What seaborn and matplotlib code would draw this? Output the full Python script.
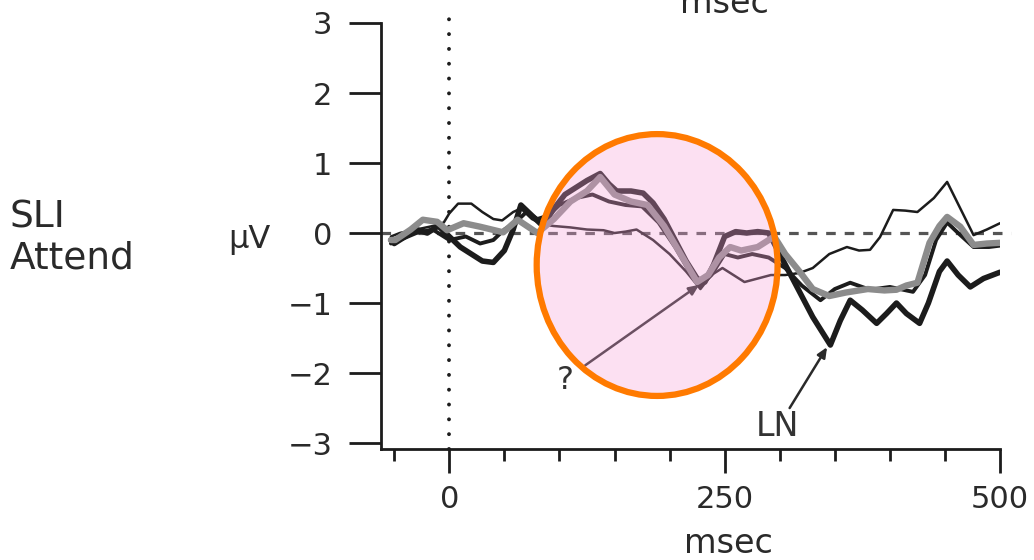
import matplotlib
matplotlib.use("Agg")
import matplotlib.pyplot as plt
import seaborn as sns
import pandas as pd
from matplotlib.patches import Ellipse

# ERP waveforms (ms, microvolts), SLI group, attend condition
thick_t = [-53, -50, -40, -30, -20, -10, 0, 10, 20, 30, 40, 50, 58, 65, 75, 85, 95, 105, 115, 125,
           137, 145, 152, 165, 176, 185, 195, 205, 215, 225, 232, 240, 250, 260, 270, 280, 290, 300,
           310, 320, 330, 340, 346, 355, 364, 375, 388, 397, 406, 415, 427, 435, 445, 452, 462, 473,
           485, 500]
thick_v = [-0.1, -0.15, -0.05, 0.05, 0.0, 0.1, -0.05, -0.2, -0.3, -0.4, -0.42, -0.25, 0.05, 0.4,
           0.25, 0.1, 0.35, 0.55, 0.65, 0.75, 0.85, 0.7, 0.6, 0.6, 0.57, 0.43, 0.2, -0.1, -0.4, -0.65,
           -0.7, -0.45, -0.05, 0.02, 0.0, 0.02, 0.0, -0.3, -0.6, -0.9, -1.2, -1.45, -1.6, -1.25, -0.96,
           -1.1, -1.29, -1.15, -1.0, -1.15, -1.29, -1.0, -0.55, -0.4, -0.6, -0.77, -0.65, -0.56]

medium_t = [-53, -45, -30, -15, 0, 15, 28, 40, 50, 60, 70, 80, 90, 100, 115, 130, 145, 160, 175, 190,
            205, 218, 228, 238, 250, 262, 275, 290, 305, 320, 337, 350, 364, 382, 400, 421, 432, 442,
            452, 462, 476, 490, 500]
medium_v = [-0.15, -0.1, 0.0, 0.05, -0.1, -0.05, -0.15, -0.1, 0.05, 0.15, 0.3, 0.2, 0.25, 0.4, 0.5,
            0.55, 0.45, 0.4, 0.38, 0.15, -0.2, -0.55, -0.75, -0.6, -0.3, -0.35, -0.3, -0.35, -0.5,
            -0.75, -0.96, -0.8, -0.71, -0.81, -0.77, -0.84, -0.6, -0.1, 0.15, 0.0, -0.2, -0.2, -0.18]

thin_t = [-53, -45, -30, -15, -5, 0, 8, 20, 30, 40, 48, 58, 65, 75, 85, 95, 110, 125, 140, 150, 160,
          170, 185, 200, 215, 228, 238, 248, 258, 268, 280, 292, 305, 318, 330, 345, 361, 372, 382,
          391, 403, 414, 425, 440, 452, 464, 476, 488, 500]
thin_v = [-0.05, 0.0, 0.05, 0.1, 0.15, 0.28, 0.42, 0.42, 0.3, 0.2, 0.18, 0.3, 0.35, 0.2, 0.12, 0.1,
          0.08, 0.05, 0.04, 0.0, 0.02, 0.05, -0.1, -0.3, -0.55, -0.8, -0.6, -0.5, -0.6, -0.7, -0.65,
          -0.6, -0.6, -0.57, -0.5, -0.3, -0.2, -0.25, -0.24, -0.06, 0.33, 0.32, 0.3, 0.5, 0.73, 0.35,
          -0.03, 0.05, 0.14]

gray_t = [-53, -49, -35, -24, -11, -2, 13, 28, 49, 62, 80, 95, 110, 125, 137, 150, 165, 180, 195, 210,
          225, 235, 245, 255, 265, 280, 295, 305, 318, 330, 345, 360, 380, 395, 406, 415, 425, 436,
          445, 452, 464, 476, 488, 500]
gray_v = [-0.1, -0.1, 0.05, 0.19, 0.16, 0.04, 0.14, 0.09, 0.01, 0.19, 0.0, 0.2, 0.45, 0.6, 0.8, 0.55,
          0.45, 0.4, 0.1, -0.3, -0.7, -0.6, -0.35, -0.2, -0.25, -0.2, -0.05, -0.3, -0.55, -0.8, -0.9,
          -0.85, -0.8, -0.82, -0.81, -0.75, -0.71, -0.14, 0.1, 0.23, 0.09, -0.17, -0.15, -0.14]

y_ticks = [-3, -2, -1, 0, 1, 2, 3]
x_major = [0, 250, 500]
x_minor = [-50, 50, 100, 150, 200, 300, 350, 400, 450]

sns.set_theme(style="ticks")
plt.rcParams["font.family"] = ["DejaVu Sans"]
plt.rcParams["axes.unicode_minus"] = True

W, H = 1034, 560
fig = plt.figure(figsize=(W / 100, H / 100), dpi=100)
ax = fig.add_axes([381 / W, 1 - 449 / H, (1000 - 381) / W, (449 - 23) / H])
ax.set_xlim(-62, 500)
ax.set_ylim(-3.085, 3)

ink = "#1c1c1c"
txt = "#2a2a2a"

# reference lines: stimulus onset and baseline
ax.plot([0, 0], [-3.085, 3.09], ls=(0, (0.01, 3.8)), lw=2.8, color=ink,
        dash_capstyle="round", clip_on=False, zorder=1.5)
ax.plot([-62, 510], [0, 0], ls=(0, (3.0, 2.8)), lw=2.3, color="#555555",
        clip_on=False, zorder=1.5)

waves = [
    (thick_t, thick_v, ink, 4.0),
    (medium_t, medium_v, ink, 2.8),
    (thin_t, thin_v, ink, 1.8),
    (gray_t, gray_v, "#8c8c8c", 4.6),
]
for t, v, c, lw in waves:
    df = pd.DataFrame({"ms": t, "uV": v})
    sns.lineplot(data=df, x="ms", y="uV", ax=ax, color=c, lw=lw, estimator=None,
                 sort=False, zorder=2)

# pointers
ax.annotate("", xy=(226.9, -0.74), xytext=(123.4, -1.89),
            arrowprops=dict(arrowstyle="-|>,head_length=0.5,head_width=0.22", lw=1.8,
                            color=txt, shrinkA=0, shrinkB=0), zorder=2.5)
ax.annotate("", xy=(343, -1.63), xytext=(309, -2.5),
            arrowprops=dict(arrowstyle="-|>,head_length=0.5,head_width=0.22", lw=1.8,
                            color=txt, shrinkA=0, shrinkB=0), zorder=2.5)
ax.text(105, -2.1, "?", ha="center", va="center", fontsize=23, color="#333333")
ax.text(298, -2.77, "LN", ha="center", va="center", fontsize=24, color="#333333")

# highlighted region
ax.add_patch(Ellipse((188.7, -0.457), 218.7, 3.74, facecolor=(0.965, 0.63, 0.85, 0.32),
                     edgecolor="#FF7A00", lw=4.5, zorder=5))

ax.set_xticks(x_major)
ax.set_xticks(x_minor, minor=True)
ax.set_yticks(y_ticks)
ax.set_xlabel("")
ax.set_ylabel("")
ax.tick_params(axis="y", direction="out", length=23, width=2, pad=12, labelsize=22,
               color=ink, labelcolor=txt)
ax.tick_params(axis="x", which="major", direction="out", length=17, width=2, pad=9,
               labelsize=22, color=ink, labelcolor=txt)
ax.tick_params(axis="x", which="minor", direction="out", length=8.6, width=2, color=ink)
for s in ["top", "right"]:
    ax.spines[s].set_visible(False)
for s in ["left", "bottom"]:
    ax.spines[s].set_linewidth(2)
    ax.spines[s].set_color(ink)

fig.text(728 / W, 1 - 553 / H, "msec", ha="center", va="baseline", fontsize=24, color=txt)
fig.text(724 / W, 1 - 13 / H, "msec", ha="center", va="baseline", fontsize=24, color=txt)
fig.text(228 / W, 1 - 248 / H, "μV", ha="left", va="baseline", fontsize=23, color=txt)
fig.text(10 / W, 1 - 228 / H, "SLI", ha="left", va="baseline", fontsize=27, color=txt)
fig.text(10 / W, 1 - 268 / H, "Attend", ha="left", va="baseline", fontsize=27, color=txt)

fig.savefig("out.png", dpi=100)
